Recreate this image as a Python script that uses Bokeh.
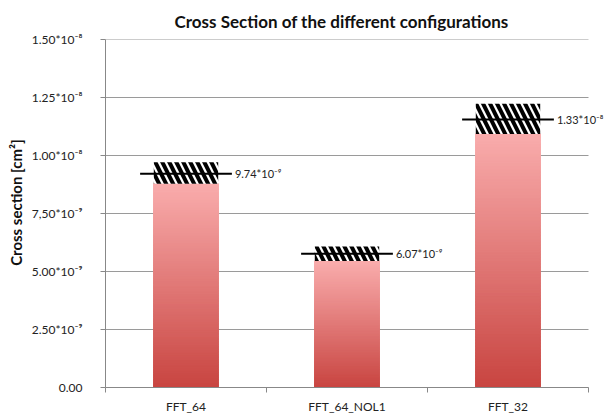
import numpy as np
from bokeh.plotting import figure
from bokeh.models import Range1d, FixedTicker, CustomJSTickFormatter, LabelSet, ColumnDataSource
from bokeh.core.properties import value
from bokeh.embed import file_html
from bokeh.resources import INLINE

# ---- data (cm^2) ----
categories = ["FFT_64", "FFT_64_NOL1", "FFT_32"]
bar_values = [8.78e-9, 5.45e-9, 10.93e-9]
line_values = [9.21e-9, 5.77e-9, 11.55e-9]
hatch_tops = [9.71e-9, 6.08e-9, 12.23e-9]
value_labels = ["9.74*10\u207b\u2079", "6.07*10\u207b\u2079", "1.33*10\u207b\u2078"]
tick_values = [0, 2.5e-9, 5e-9, 7.5e-9, 1e-8, 1.25e-8, 1.5e-8]
tick_labels = ["0.00", "2.50*10\u207b\u2079", "5.00*10\u207b\u2079", "7,50*10\u207b\u2079",
               "1.00*10\u207b\u2078", "1.25*10\u207b\u2078", "1.50*10\u207b\u2078"]

FONT = "Lato"
BAR_HALF = 0.20
ERR_HALF = 0.285
TOP_COLOR = np.array([249, 172, 172])
BOTTOM_COLOR = np.array([200, 68, 64])
N_SLICES = 80
N_CAT = len(categories)
CAT_PX = 161.0          # pixel width of one category
FRAME_W = 500           # frame extends right of the last category so value labels fit
X_END = FRAME_W / CAT_PX

p = figure(frame_width=FRAME_W, frame_height=348, output_backend="svg", toolbar_location=None,
           x_range=Range1d(0, X_END), y_range=Range1d(0, 1.5e-8),
           min_border_left=105, min_border_right=0, min_border_top=0, min_border_bottom=0)
p.outline_line_color = None
p.background_fill_color = "white"
p.border_fill_color = "white"

p.title.text = "Cross Section of the different configurations"
p.title.text_font = FONT
p.title.text_font_size = "17px"
p.title.text_font_style = "bold"
p.title.align = "left"
p.title.offset = 69
p.title.text_color = "#111111"
p.title.standoff = 16

# horizontal grid lines only across the category area
p.xgrid.visible = False
p.ygrid.visible = False
p.segment(x0=[0] * len(tick_values), x1=[N_CAT] * len(tick_values), y0=tick_values, y1=tick_values,
          line_color="#9a9a9a", line_width=1)

# gradient bars: each bar sliced from bottom (dark) to top (light)
lefts, rights, bottoms, tops, colors = [], [], [], [], []
for i, v in enumerate(bar_values):
    edges = np.linspace(0, v, N_SLICES + 1)
    for k in range(N_SLICES):
        t = (k + 0.5) / N_SLICES
        c = BOTTOM_COLOR + (TOP_COLOR - BOTTOM_COLOR) * t
        lefts.append(i + 0.5 - BAR_HALF)
        rights.append(i + 0.5 + BAR_HALF)
        bottoms.append(edges[k])
        tops.append(edges[k + 1])
        colors.append("#%02x%02x%02x" % tuple(int(round(x)) for x in c))
p.quad(left=lefts, right=rights, bottom=bottoms, top=tops, fill_color=colors,
       line_color=colors, line_width=1.5)

centers = [i + 0.5 for i in range(N_CAT)]

# hatched uncertainty region
p.quad(left=[c - BAR_HALF for c in centers], right=[c + BAR_HALF for c in centers],
       bottom=bar_values, top=hatch_tops, fill_color="white", line_color=None,
       hatch_pattern="\\", hatch_color="black", hatch_weight=4, hatch_scale=14)

# error line
p.segment(x0=[c - ERR_HALF for c in centers], x1=[c + ERR_HALF for c in centers],
          y0=line_values, y1=line_values, line_color="black", line_width=2)

lab_src = ColumnDataSource(dict(x=[c + ERR_HALF for c in centers], y=line_values, text=value_labels))
p.add_layout(LabelSet(x="x", y="y", text="text", source=lab_src, x_offset=3,
                      text_baseline="middle", text_align="left",
                      text_font=value(FONT), text_font_size="11px", text_color="#222222"))

# axes
p.xaxis.bounds = (0, N_CAT)
p.xaxis.ticker = FixedTicker(ticks=centers, minor_ticks=list(range(N_CAT + 1)))
p.xaxis.formatter = CustomJSTickFormatter(args=dict(labels=categories), code="return labels[index];")
p.xaxis.major_tick_out = 0
p.xaxis.major_tick_in = 0
p.xaxis.minor_tick_out = 5
p.xaxis.minor_tick_in = 0
p.xaxis.minor_tick_line_color = "#888888"
p.xaxis.axis_line_color = "#888888"
p.xaxis.major_label_text_font = FONT
p.xaxis.major_label_text_font_size = "12px"
p.xaxis.major_label_text_color = "#222222"
p.xaxis.major_label_standoff = 6

p.yaxis.ticker = FixedTicker(ticks=tick_values, minor_ticks=[])
p.yaxis.formatter = CustomJSTickFormatter(args=dict(labels=tick_labels), code="return labels[index];")
p.yaxis.major_tick_out = 5
p.yaxis.major_tick_in = 0
p.yaxis.major_tick_line_color = "#888888"
p.yaxis.axis_line_color = "#888888"
p.yaxis.major_label_text_font = FONT
p.yaxis.major_label_text_font_size = "12px"
p.yaxis.major_label_text_color = "#222222"
p.yaxis.major_label_standoff = 18
p.yaxis.axis_label = "\u00a0" * 6 + "Cross section [cm\u00b2]"
p.yaxis.axis_label_text_font = FONT
p.yaxis.axis_label_text_font_size = "15px"
p.yaxis.axis_label_text_font_style = "bold"
p.yaxis.axis_label_text_color = "#111111"
p.yaxis.axis_label_standoff = 4

open("out.html", "w").write(file_html(p, INLINE))
